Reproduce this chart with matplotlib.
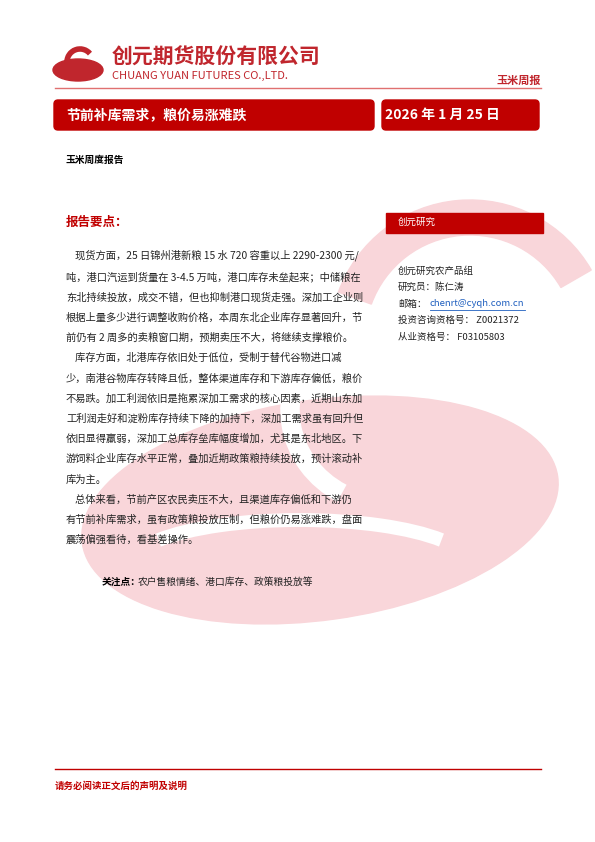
import matplotlib.pyplot as plt
from matplotlib.patches import FancyBboxPatch, Rectangle, Ellipse, Arc, Wedge

plt.rcParams['font.family'] = ['Noto Sans CJK SC', 'DejaVu Sans']

RED = '#c00000'
company = '创元期货股份有限公司'
company_en = 'CHUANG YUAN FUTURES CO.,LTD.'
report_type = '玉米周报'
title = '节前补库需求，粮价易涨难跌'
date_text = '2026 年 1 月 25 日'
subtitle = '玉米周度报告'
section = '报告要点：'
body_lines = [
    ('    现货方面，25 日锦州港新粮 15 水 720 容重以上 2290-2300 元/', 255),
    ('吨，港口汽运到货量在 3-4.5 万吨，港口库存未垒起来；中储粮在', 277),
    ('东北持续投放，成交不错，但也抑制港口现货走强。深加工企业则', 298),
    ('根据上量多少进行调整收购价格，本周东北企业库存显著回升，节', 318),
    ('前仍有 2 周多的卖粮窗口期，预期卖压不大，将继续支撑粮价。', 338),
    ('    库存方面，北港库存依旧处于低位，受制于替代谷物进口减', 358),
    ('少，南港谷物库存转降且低，整体渠道库存和下游库存偏低，粮价', 379),
    ('不易跌。加工利润依旧是拖累深加工需求的核心因素，近期山东加', 399),
    ('工利润走好和淀粉库存持续下降的加持下，深加工需求虽有回升但', 419),
    ('依旧显得羸弱，深加工总库存垒库幅度增加，尤其是东北地区。下', 439),
    ('游饲料企业库存水平正常，叠加近期政策粮持续投放，预计滚动补', 459),
    ('库为主。', 480),
    ('    总体来看，节前产区农民卖压不大，且渠道库存偏低和下游仍', 500),
    ('有节前补库需求，虽有政策粮投放压制，但粮价仍易涨难跌，盘面', 520),
    ('震荡偏强看待，看基差操作。', 540),
]
focus_label = '关注点：'
focus_text = '农户售粮情绪、港口库存、政策粮投放等'
side_title = '创元研究'
side_lines = ['创元研究农产品组', '研究员：陈仁涛', '邮箱：', '投资咨询资格号： Z0021372', '从业资格号： F03105803']
email = 'chenrt@cyqh.com.cn'
footer = '请务必阅读正文后的声明及说明'

fig = plt.figure(figsize=(5.95, 8.42), dpi=100)
ax = fig.add_axes([0, 0, 1, 1])
ax.set_xlim(0, 595)
ax.set_ylim(842, 0)
ax.axis('off')

# watermark
ax.add_patch(Ellipse((320, 510), 480, 220, angle=-8, color='#f9d6da', zorder=0))
ax.add_patch(Wedge((470, 340), 140, 200, 330, width=35, color='#f9d6da', zorder=0))
ax.add_patch(Arc((390, 410), 200, 190, theta1=120, theta2=330, lw=14, color='white', zorder=0.5))
ax.add_patch(Arc((300, 565), 340, 90, theta1=190, theta2=350, lw=10, color='white', zorder=0.5))

# header logo
ax.add_patch(Ellipse((78, 70), 50, 22, color='#c0262d'))
ax.add_patch(Arc((80, 62), 26, 26, theta1=40, theta2=320, lw=4, color='#c0262d'))
ax.text(112, 57, company, fontsize=15, fontweight='bold', color='#c0262d', va='center')
ax.text(112, 76, company_en, fontsize=8, color='#c0262d', va='center')
ax.text(541, 80, report_type, fontsize=8, fontweight='bold', color='#c0262d', ha='right', va='center')
ax.plot([55, 541], [88, 88], color='#e07070', lw=1)

# title boxes
ax.add_patch(FancyBboxPatch((54, 100), 320, 30, boxstyle='round,pad=0,rounding_size=4', color=RED))
ax.add_patch(FancyBboxPatch((382, 100), 157, 30, boxstyle='round,pad=0,rounding_size=4', color=RED))
ax.text(66, 115, title, fontsize=10, fontweight='bold', color='white', va='center')
ax.text(385, 115, date_text, fontsize=10, fontweight='bold', color='white', va='center')

ax.text(66, 160, subtitle, fontsize=7, fontweight='bold', va='center')
ax.text(66, 222, section, fontsize=9, fontweight='bold', color=RED, va='center')

for line, y in body_lines:
    ax.text(66, y, line, fontsize=7.4, va='center', color='#222222')
ax.text(102, 582, focus_label, fontsize=7, fontweight='bold', va='center')
ax.text(138, 582, focus_text, fontsize=7, va='center', color='#222222')

# side panel
ax.add_patch(Rectangle((386, 213), 157, 20, color=RED))
ax.text(398, 222, side_title, fontsize=6.8, color='white', va='center')
for i, s in enumerate(side_lines):
    ax.text(398, 271 + i * 16.5, s, fontsize=6.8, va='center', color='#222222')
ax.text(430, 304, email, fontsize=6.8, va='center', color='#1f5fbf')
ax.plot([430, 525], [310, 310], color='#1f5fbf', lw=0.6)

# footer
ax.plot([55, 541], [769, 769], color=RED, lw=1)
ax.text(55, 786, footer, fontsize=6.8, fontweight='bold', color=RED, va='center')

fig.savefig('out.png', dpi=100)
